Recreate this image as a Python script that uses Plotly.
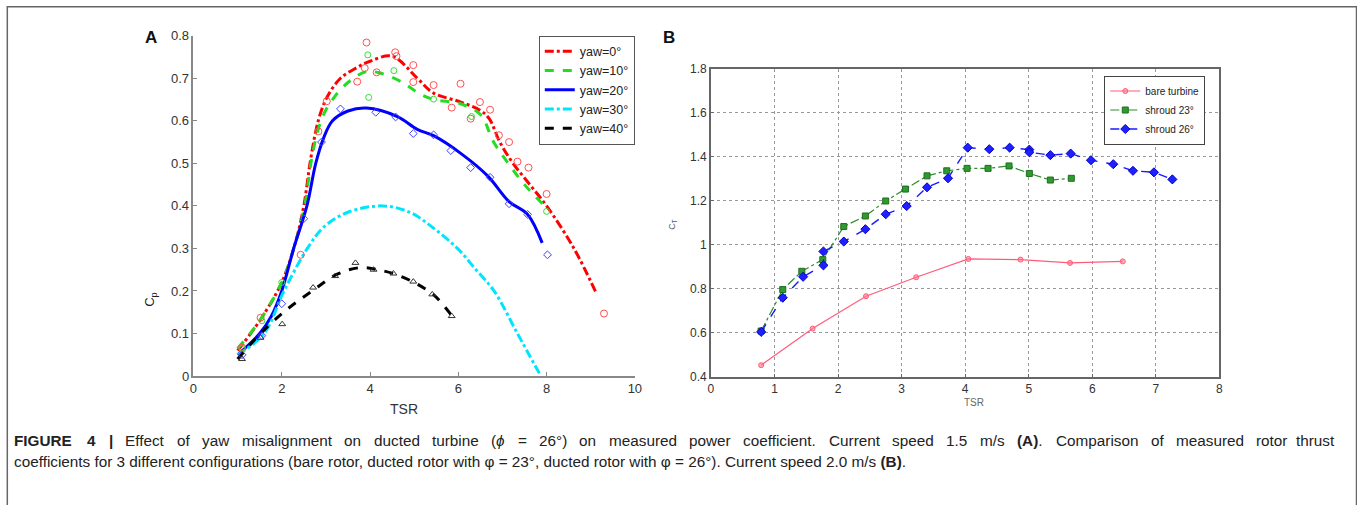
import re
import plotly.graph_objects as go

W, H = 1357, 505

# ---- Panel A: yaw misalignment, Cp vs TSR ----
yaw_labels = ["yaw=0°", "yaw=10°", "yaw=20°", "yaw=30°", "yaw=40°"]

# fitted curves
fit0_x = [1.0, 1.5, 2.0, 2.3, 2.5, 2.64, 2.78, 2.9, 3.05, 3.33, 3.7, 4.0, 4.5, 5.07, 5.44, 6.03, 6.49, 6.7, 6.94, 7.24, 7.62, 8.0, 8.62, 9.12]
fit0_y = [0.06, 0.13, 0.22, 0.31, 0.40, 0.50, 0.58, 0.625, 0.66, 0.70, 0.725, 0.74, 0.752, 0.70, 0.665, 0.645, 0.625, 0.605, 0.55, 0.50, 0.45, 0.40, 0.30, 0.196]
fit10_x = [1.0, 1.5, 2.0, 2.3, 2.52, 2.66, 2.8, 2.95, 3.15, 3.5, 3.9, 4.2, 4.74, 5.1, 5.44, 6.05, 6.5, 6.8, 7.13, 7.5, 8.0]
fit10_y = [0.065, 0.13, 0.22, 0.31, 0.40, 0.50, 0.57, 0.615, 0.65, 0.69, 0.715, 0.713, 0.69, 0.665, 0.65, 0.64, 0.615, 0.55, 0.50, 0.45, 0.395]
fit20_x = [1.0, 1.5, 1.76, 2.0, 2.27, 2.57, 2.77, 2.95, 3.15, 3.5, 3.92, 4.62, 5.07, 5.44, 6.1, 6.67, 7.15, 7.57, 7.9]
fit20_y = [0.05, 0.10, 0.14, 0.20, 0.30, 0.40, 0.50, 0.56, 0.60, 0.623, 0.63, 0.61, 0.58, 0.565, 0.52, 0.47, 0.41, 0.38, 0.313]
fit30_x = [1.0, 1.6, 2.05, 2.58, 2.95, 3.5, 4.28, 4.9, 5.41, 5.98, 6.4, 6.81, 7.34, 7.87]
fit30_y = [0.05, 0.10, 0.20, 0.30, 0.35, 0.385, 0.40, 0.385, 0.35, 0.30, 0.25, 0.20, 0.10, 0.0]
fit40_x = [1.0, 1.52, 2.1, 2.69, 3.27, 3.79, 4.17, 4.55, 5.0, 5.45, 5.83]
fit40_y = [0.04, 0.10, 0.155, 0.20, 0.24, 0.255, 0.25, 0.24, 0.22, 0.19, 0.145]

# measured points
pts0_x = [1.10, 1.52, 2.43, 2.83, 3.02, 3.71, 3.88, 3.92, 4.15, 4.57, 4.6, 4.98, 4.98, 5.44, 5.85, 6.05, 6.28, 6.49, 6.72, 6.92, 7.15, 7.34, 7.59, 8.0, 9.30]
pts0_y = [0.067, 0.137, 0.285, 0.575, 0.646, 0.692, 0.724, 0.784, 0.714, 0.761, 0.752, 0.731, 0.691, 0.684, 0.631, 0.687, 0.605, 0.644, 0.626, 0.566, 0.550, 0.504, 0.490, 0.428, 0.147]
pts10_x = [1.1, 1.55, 2.0, 3.95, 3.97, 4.54, 5.44, 6.3, 8.0]
pts10_y = [0.065, 0.13, 0.22, 0.755, 0.655, 0.718, 0.651, 0.61, 0.387]
pts20_x = [1.1, 1.55, 2.0, 2.5, 2.9, 3.33, 4.13, 4.58, 4.98, 5.44, 5.83, 6.28, 6.72, 7.15, 7.57, 8.02]
pts20_y = [0.05, 0.095, 0.17, 0.37, 0.55, 0.628, 0.62, 0.609, 0.57, 0.567, 0.53, 0.49, 0.467, 0.405, 0.38, 0.285]
pts40_x = [1.1, 1.52, 2.01, 2.71, 3.21, 3.67, 4.08, 4.53, 4.98, 5.41, 5.85]
pts40_y = [0.04, 0.09, 0.122, 0.208, 0.235, 0.266, 0.25, 0.241, 0.222, 0.192, 0.141]

# ---- Panel B: thrust coefficient vs TSR ----
config_labels = ["bare turbine", "shroud 23°", "shroud 26°"]
bare_x = [0.79, 1.6, 2.44, 3.23, 4.05, 4.87, 5.65, 6.48]
bare_y = [0.454, 0.62, 0.767, 0.853, 0.936, 0.933, 0.918, 0.925]
s23_x = [0.79, 1.13, 1.43, 1.76, 2.09, 2.43, 2.75, 3.06, 3.40, 3.71, 4.03, 4.36, 4.69, 5.01, 5.34, 5.67]
s23_y = [0.609, 0.797, 0.88, 0.933, 1.083, 1.131, 1.199, 1.253, 1.313, 1.336, 1.347, 1.347, 1.358, 1.324, 1.294, 1.302]
s26_x = [0.79, 1.13, 1.45, 1.77, 1.77, 2.09, 2.43, 2.75, 3.08, 3.40, 3.73, 4.04, 4.38, 4.70, 5.01, 5.01, 5.34, 5.66, 5.98, 6.33, 6.64, 6.97, 7.26]
s26_y = [0.605, 0.76, 0.855, 0.907, 0.970, 1.015, 1.071, 1.139, 1.176, 1.261, 1.302, 1.441, 1.434, 1.441, 1.432, 1.42, 1.407, 1.414, 1.384, 1.366, 1.336, 1.329, 1.297]

# caption: first line is justified in the journal layout, second is not
caption_1 = ("<b>FIGURE</b> <b>4</b> <b>|</b> Effect of yaw misalignment on ducted turbine (<i>ϕ</i> = 26°) on measured "
             "power coefficient. Current speed 1.5 m/s <b>(A)</b>. Comparison of measured rotor thrust")
caption_2 = ("coefficients for 3 different configurations (bare rotor, ducted rotor with φ = 23°, "
             "ducted rotor with φ = 26°). Current speed 2.0 m/s <b>(B)</b>.")

CAP_FONT = 15.3
CAP_LEFT, CAP_RIGHT = 12, 1335

# rough Arial advance widths (per 1000 em), only used to space the justified words
_AW = {" ": 278, "a": 556, "b": 556, "c": 500, "d": 556, "e": 556, "f": 278, "g": 556, "h": 556,
       "i": 222, "j": 222, "k": 500, "l": 222, "m": 833, "n": 556, "o": 556, "p": 556, "q": 556,
       "r": 333, "s": 500, "t": 278, "u": 556, "v": 500, "w": 722, "x": 500, "y": 500, "z": 500,
       ".": 278, ",": 278, "(": 333, ")": 333, "=": 584, "°": 400, "|": 280, "/": 278,
       "ϕ": 600, "φ": 600, "A": 722, "B": 722, "C": 722, "E": 667, "F": 611, "G": 778, "I": 278,
       "R": 722, "U": 722}


def est_width(word, size):
    plain = re.sub(r"<[^>]+>", "", word)
    bold = "<b>" in word
    w = 0
    for ch in plain:
        w += 556 if ch.isdigit() else _AW.get(ch, 556)
    return w * size / 1000 * (1.05 if bold else 1.0)


# pixel positions measured on the reference -> paper coords
# (small correction for the slight shrink seen in the rendered page)
def px(x):
    return (x - 3.7) / 0.991 / W


def py(y):
    return 1 - (y - 6.15) / 0.975 / H


fig = go.Figure()

fits = [
    (fit0_x, fit0_y, "#ff0000", "dashdot", 3),
    (fit10_x, fit10_y, "#22dd22", "dash", 3),
    (fit20_x, fit20_y, "#0000ff", "solid", 3),
    (fit30_x, fit30_y, "#00e5ff", "dashdot", 3),
    (fit40_x, fit40_y, "#000000", "dash", 3),
]
for (fx, fy, col, dash, w), name in zip(fits, yaw_labels):
    fig.add_trace(go.Scatter(
        x=fx, y=fy, mode="lines", name=name, line=dict(color=col, dash=dash, width=w, shape="spline"),
        xaxis="x", yaxis="y", legend="legend",
    ))

pts = [
    (pts0_x, pts0_y, "#ff5050", "circle-open", 7),
    (pts10_x, pts10_y, "#33dd33", "circle-open", 6),
    (pts20_x, pts20_y, "#4040ff", "diamond-open", 6),
    (pts40_x, pts40_y, "#333333", "triangle-up-open", 6),
]
for mx, my, col, sym, size in pts:
    fig.add_trace(go.Scatter(
        x=mx, y=my, mode="markers", showlegend=False,
        marker=dict(color=col, symbol=sym, size=size, line=dict(width=1)),
        xaxis="x", yaxis="y",
    ))

fig.add_trace(go.Scatter(
    x=bare_x, y=bare_y, mode="lines+markers", name=config_labels[0],
    line=dict(color="#ff5c7a", width=1.2),
    marker=dict(symbol="circle", size=5, color="rgba(255,120,140,0.6)", line=dict(color="#ff5c7a", width=1)),
    xaxis="x2", yaxis="y2", legend="legend2",
))
fig.add_trace(go.Scatter(
    x=s23_x, y=s23_y, mode="lines+markers", name=config_labels[1],
    line=dict(color="#2e8b2e", width=1.2, dash="dashdot"),
    marker=dict(symbol="square", size=6, color="#2f9a2f", line=dict(color="#1e6e1e", width=1)),
    xaxis="x2", yaxis="y2", legend="legend2",
))
fig.add_trace(go.Scatter(
    x=s26_x, y=s26_y, mode="lines+markers", name=config_labels[2],
    line=dict(color="#1a1aff", width=1.4, dash="dash"),
    marker=dict(symbol="diamond", size=7, color="#2020ff", line=dict(color="#0000cc", width=1)),
    xaxis="x2", yaxis="y2", legend="legend2",
))

axA = dict(showline=True, linecolor="#888888", linewidth=1.5, ticks="inside", ticklen=4,
           tickcolor="#888888", showgrid=False, zeroline=False,
           tickfont=dict(family="Arial, Liberation Sans, sans-serif", size=13, color="#333333"))
axB = dict(showline=True, linecolor="#666666", linewidth=1.5, mirror=True, ticks="inside", ticklen=3,
           tickcolor="#666666", showgrid=True, gridcolor="#999999", griddash="dot", gridwidth=1,
           zeroline=False,
           tickfont=dict(family="Arial, Liberation Sans, sans-serif", size=12, color="#333333"))

fig.update_layout(
    autosize=True, margin=dict(l=0, r=0, t=0, b=0),
    paper_bgcolor="white", plot_bgcolor="white",
    xaxis=dict(axA, domain=[px(193), px(634)], range=[0, 10], dtick=2, anchor="y"),
    yaxis=dict(axA, domain=[py(377), py(35)], range=[0, 0.8], dtick=0.1, anchor="x",
               tickformat=".1~f"),
    xaxis2=dict(axB, domain=[px(710), px(1218)], range=[0, 8], dtick=1, anchor="y2"),
    yaxis2=dict(axB, domain=[py(378), py(68)], range=[0.4, 1.8], dtick=0.2, anchor="x2",
                tickformat=".1~f"),
    legend=dict(x=px(538), y=py(35), xanchor="left", yanchor="top", bgcolor="white",
                bordercolor="#555555", borderwidth=1, tracegroupgap=0,
                font=dict(family="Arial, Liberation Sans, sans-serif", size=12.5, color="#222222"),
                itemwidth=30),
    legend2=dict(x=px(1103), y=py(75), xanchor="left", yanchor="top", bgcolor="white",
                 bordercolor="#444444", borderwidth=1, tracegroupgap=0,
                 font=dict(family="Arial, Liberation Sans, sans-serif", size=10, color="#222222"),
                 itemwidth=30),
    showlegend=True,
)

fig.add_shape(type="rect", xref="paper", yref="paper", x0=px(7), x1=px(1355), y0=-0.02, y1=py(6),
              line=dict(color="#666666", width=1.5), fillcolor="rgba(0,0,0,0)", layer="below")

notes = [
    dict(x=px(151), y=py(37), text="<b>A</b>", size=17, angle=0, color="#111111"),
    dict(x=px(668), y=py(37), text="<b>B</b>", size=17, angle=0, color="#111111"),
    dict(x=px(150), y=py(300), text="C<sub>p</sub>", size=13, angle=-90, color="#222222"),
    dict(x=px(403), y=py(410), text="TSR", size=14, angle=0, color="#333333"),
    dict(x=px(672), y=py(224), text="C<sub>T</sub>", size=9, angle=-90, color="#555555"),
    dict(x=px(973), y=py(404), text="TSR", size=10, angle=0, color="#666666"),
]
for n in notes:
    fig.add_annotation(x=n["x"], y=n["y"], xref="paper", yref="paper", text=n["text"], showarrow=False,
                       textangle=n["angle"], xanchor="center", yanchor="middle",
                       font=dict(family="Arial, Liberation Sans, sans-serif", size=n["size"], color=n["color"]))

cap_font = dict(family="Arial, Liberation Sans, sans-serif", size=CAP_FONT, color="#222222")

# justified first line: spread the words over the full caption width
words = caption_1.split(" ")
widths = [est_width(wd, CAP_FONT) for wd in words]
gap = (CAP_RIGHT - CAP_LEFT - sum(widths)) / (len(words) - 1)
xpos = CAP_LEFT
for i, (wd, wdw) in enumerate(zip(words, widths)):
    last = i == len(words) - 1
    fig.add_annotation(x=px(CAP_RIGHT if last else xpos), y=py(442), xref="paper", yref="paper", text=wd,
                       showarrow=False, xanchor="right" if last else "left", yanchor="middle",
                       font=cap_font)
    xpos += wdw + gap

fig.add_annotation(x=px(CAP_LEFT), y=py(463), xref="paper", yref="paper", text=caption_2, showarrow=False,
                   xanchor="left", yanchor="middle", align="left", font=cap_font)

# let the graph fill the browser window exactly, with no page margin
fill_window = """
var gd = document.getElementById('{plot_id}');
document.documentElement.style.margin = '0';
document.body.style.margin = '0';
document.documentElement.style.overflow = 'hidden';
document.body.style.overflow = 'hidden';
gd.style.position = 'fixed';
gd.style.left = '0px';
gd.style.top = '0px';
gd.style.width = '100vw';
gd.style.height = '100vh';
Plotly.Plots.resize(gd);
"""

fig.write_html("out.html", config={"displayModeBar": False}, post_script=fill_window,
               default_width="100%", default_height="100%")
